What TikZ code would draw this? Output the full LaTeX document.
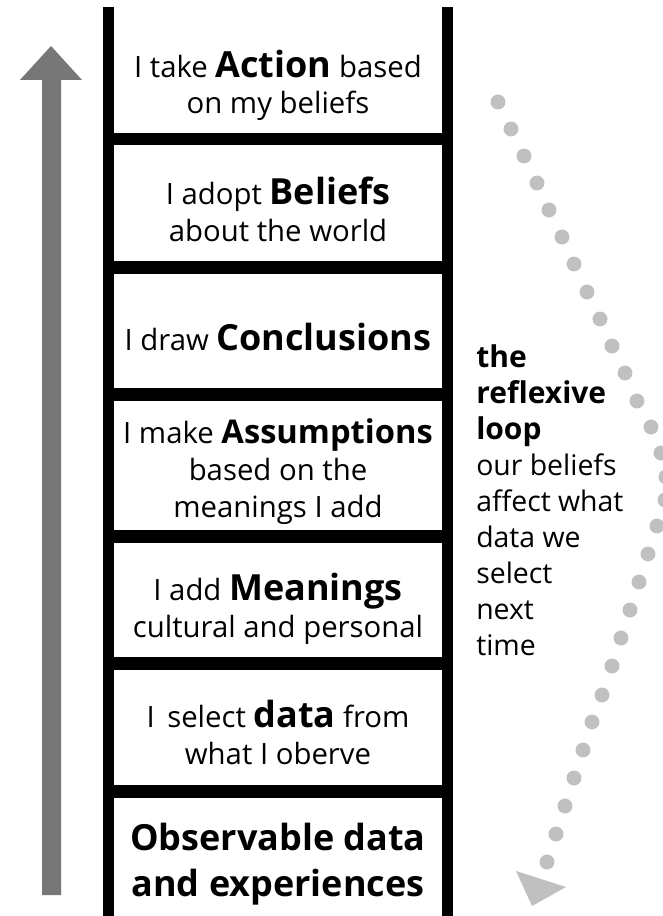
\documentclass[tikz,border=0pt]{standalone}
\usepackage{fontspec}
\setmainfont{Open Sans}
\usetikzlibrary{positioning}
\definecolor{upgray}{HTML}{777777}
\definecolor{dotgray}{HTML}{C0C0C0}
\tikzset{
  rail/.style={fill=black},
  uparrow/.style={fill=upgray},
  rungtext/.style={align=center,anchor=base,inner sep=0pt,font=\fontsize{22}{27.4}\selectfont},
  looptext/.style={align=left,anchor=base west,inner sep=0pt,font=\fontsize{21.3}{27}\selectfont},
  loopdot/.style={fill=dotgray},
}
\newcommand{\kw}[2][27]{{\fontsize{#1}{27.4}\selectfont\bfseries #2}}

\begin{document}
\begin{tikzpicture}[x=0.75pt,y=-0.75pt]
  \useasboundingbox[fill=white] (0,0) rectangle (662,916);
  % ladder: two rails and six rungs
  \fill[rail] (103,7) rectangle (114,916);
  \fill[rail] (442,7) rectangle (453,916);
  \foreach \y in {133,261,388,530,657,785}
    \fill[rail] (114,\y) rectangle (442,\y+12.5);
  % rising arrow on the left
  \fill[uparrow] (42,895) -- (42,80) -- (20,80) -- (51,46) -- (82,80)
    -- (61,80) -- (61,895) -- cycle;
  % rung texts, top to bottom (anchored at the last baseline)
  \node[rungtext] (action) at (278,114) {I take \kw{Action} based\\on my beliefs};
  \node[rungtext] (beliefs) at (278,241) {I adopt \kw{Beliefs}\\about the world};
  \node[rungtext] (concl) at (278,350) {I draw \kw{Conclusions}};
  \node[rungtext] (assum) at (278,517) {I make \kw[24.5]{Assumptions}\\based on the\\meanings I add};
  \node[rungtext] (mean) at (278,637) {I add \kw{Meanings}\\cultural and personal};
  \node[rungtext] (select) at (278,764) {I\, select \kw{data} from\\what I oberve};
  \node[rungtext,font=\fontsize{27}{34.5}\selectfont\bfseries] (observ) at (278,896)
    {Observable data\\and experiences};
  % the reflexive loop
  \node[looptext] (loop) at (476,655)
    {\kw[22.5]{the}\\\kw[22.5]{reflexive}\\\kw[22.5]{loop}\\our beliefs\\affect what\\data we\\select\\next\\time};
  \foreach \p in {(498,102),(511,129),(524,156),(537,183),(549,210),(562,237),
      (574,264),(587,292),(600,319),(612,346),(625,373),(637,401),(651,427),
      (661,453),(666,477),(665,500),(657,526),(648,554),(639,582),(630,610),
      (621,638),(612,666),(602,695),(592,722),(583,750),(574,778),(565,806),
      (556,834),(547,862)}
    \fill[loopdot] \p circle (5.6pt);
  \fill[loopdot] (516,871) -- (566,887) -- (532,906) -- cycle;
\end{tikzpicture}
\end{document}
